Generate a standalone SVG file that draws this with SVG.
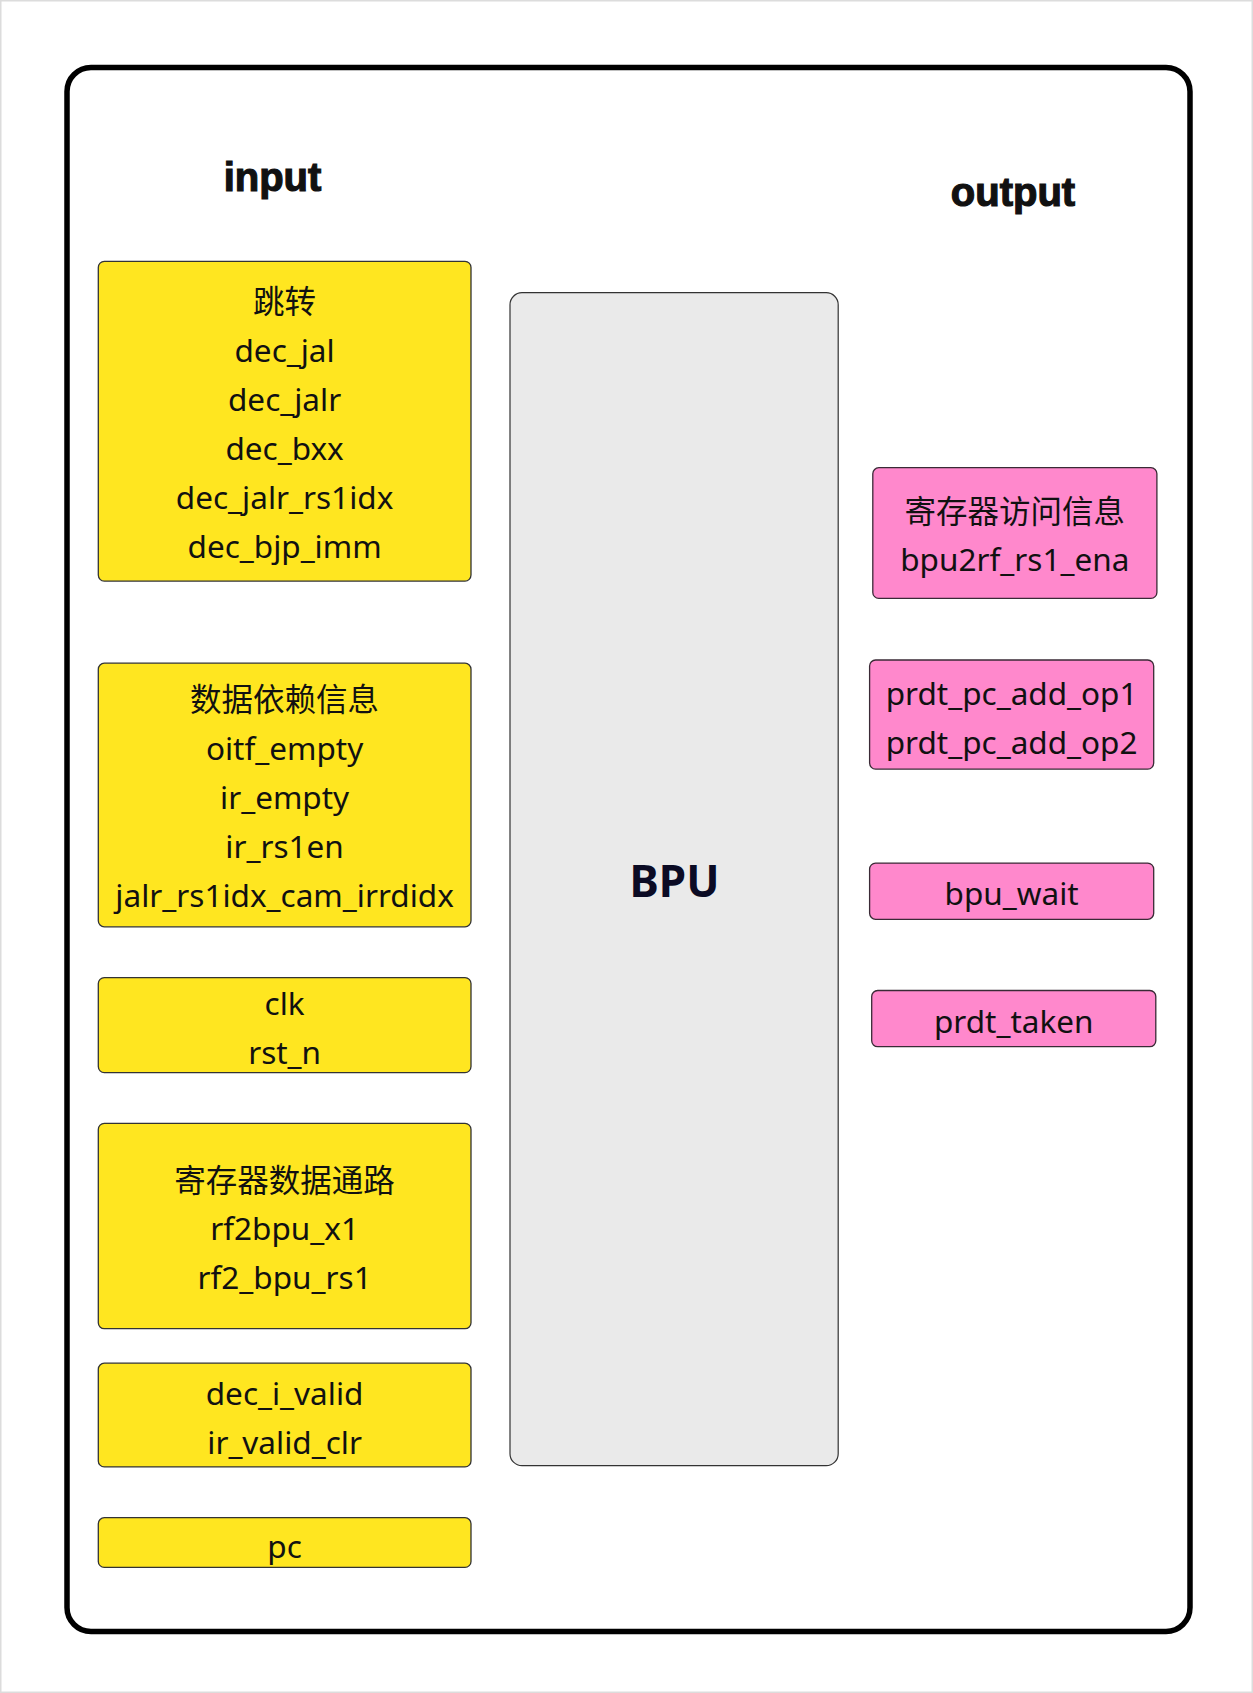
<svg xmlns="http://www.w3.org/2000/svg" width="1253" height="1693" viewBox="0 0 1253 1693">
<style>
.t{font-family:"Noto Sans","Noto Sans CJK SC",sans-serif;font-size:31.5px;fill:#111;text-anchor:middle}
.h{font-family:"Liberation Sans",Arial,sans-serif;font-weight:bold;font-size:40px;fill:#111;stroke:#111;stroke-width:1.2;text-anchor:middle}
.y{fill:#FFE620;stroke:#333;stroke-width:1.3}
.p{fill:#FF88CC;stroke:#3a2a36;stroke-width:1.3}
</style>
<rect x="0.75" y="0.75" width="1251.5" height="1691.5" fill="#fff" stroke="#dcdcdc" stroke-width="1.5"/>
<g id="frame">
<rect x="67" y="67.5" width="1123" height="1564" rx="24" fill="#fff" stroke="#000" stroke-width="5.5"/>
</g>
<g id="connectors"></g>
<g id="label-input"><text class="h" x="272.5" y="191">input</text></g>
<g id="label-output"><text class="h" x="1013" y="206">output</text></g>
<g id="bpu">
<rect x="510" y="292.7" width="328.2" height="1173" rx="12" fill="#EAEAEA" stroke="#333" stroke-width="1.2"/>
<text x="674.5" y="896.7" font-family="'Noto Sans','Liberation Sans',sans-serif" font-weight="bold" font-size="44" fill="#0b0b24" text-anchor="middle">BPU</text>
</g>
<g id="in-jump">
<rect class="y" x="98.3" y="261.4" width="372.7" height="319.7" rx="6"/>
<text class="t" x="284.6" y="313">跳转</text>
<text class="t" x="284.6" y="362">dec_jal</text>
<text class="t" x="284.6" y="411">dec_jalr</text>
<text class="t" x="284.6" y="460">dec_bxx</text>
<text class="t" x="284.6" y="509">dec_jalr_rs1idx</text>
<text class="t" x="284.6" y="558">dec_bjp_imm</text>
</g>
<g id="in-dep">
<rect class="y" x="98.3" y="663.2" width="372.7" height="263.6" rx="6"/>
<text class="t" x="284.6" y="710.5">数据依赖信息</text>
<text class="t" x="284.6" y="759.5">oitf_empty</text>
<text class="t" x="284.6" y="808.5">ir_empty</text>
<text class="t" x="284.6" y="857.5">ir_rs1en</text>
<text class="t" x="284.6" y="906.5">jalr_rs1idx_cam_irrdidx</text>
</g>
<g id="in-clk">
<rect class="y" x="98.3" y="977.6" width="372.7" height="95" rx="6"/>
<text class="t" x="284.6" y="1015.4">clk</text>
<text class="t" x="284.6" y="1064">rst_n</text>
</g>
<g id="in-rf">
<rect class="y" x="98.3" y="1123.4" width="372.7" height="205.3" rx="6"/>
<text class="t" x="284.6" y="1191.5">寄存器数据通路</text>
<text class="t" x="284.6" y="1240">rf2bpu_x1</text>
<text class="t" x="284.6" y="1288.7">rf2_bpu_rs1</text>
</g>
<g id="in-valid">
<rect class="y" x="98.3" y="1363.2" width="372.7" height="103.7" rx="6"/>
<text class="t" x="284.6" y="1405.3">dec_i_valid</text>
<text class="t" x="284.6" y="1454">ir_valid_clr</text>
</g>
<g id="in-pc">
<rect class="y" x="98.3" y="1517.7" width="372.7" height="49.7" rx="6"/>
<text class="t" x="284.6" y="1557.5">pc</text>
</g>
<g id="out-rf">
<rect class="p" x="872.8" y="467.7" width="284.1" height="130.7" rx="6"/>
<text class="t" x="1014.8" y="522.8">寄存器访问信息</text>
<text class="t" x="1014.8" y="571.4">bpu2rf_rs1_ena</text>
</g>
<g id="out-op">
<rect class="p" x="869.6" y="660" width="284.1" height="109.1" rx="6"/>
<text class="t" x="1011.6" y="705.4">prdt_pc_add_op1</text>
<text class="t" x="1011.6" y="754">prdt_pc_add_op2</text>
</g>
<g id="out-wait">
<rect class="p" x="869.6" y="863.1" width="284.1" height="56.2" rx="6"/>
<text class="t" x="1011.6" y="905.2">bpu_wait</text>
</g>
<g id="out-taken">
<rect class="p" x="871.7" y="990.5" width="284.1" height="56.2" rx="6"/>
<text class="t" x="1013.8" y="1032.7">prdt_taken</text>
</g>
</svg>
